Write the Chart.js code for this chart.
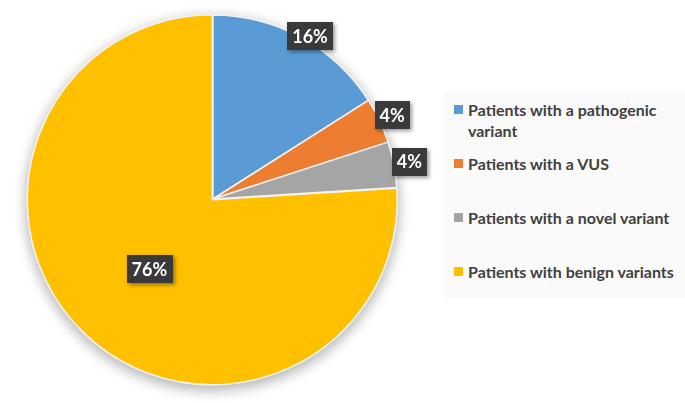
<!DOCTYPE html>
<html>
<head>
<meta charset="utf-8">
<script src="https://cdn.jsdelivr.net/npm/chart.js@4/dist/chart.umd.min.js"></script>
<style>
  html, body { margin: 0; padding: 0; background: #fff; }
  #wrap { position: relative; width: 685px; height: 403px; }
  #legend {
    position: absolute; left: 444px; top: 92px; width: 241px; height: 206px;
    background: #fafafa; font: bold 16px Lato, sans-serif; color: #404040;
  }
  .item { position: absolute; left: 10px; right: 2px; line-height: 21px; padding-left: 14px; }
  .item i { position: absolute; left: 0; top: 6px; width: 9px; height: 9px; }
</style>
</head>
<body>
<div id="wrap">
  <canvas id="pie"></canvas>
  <div id="legend"></div>
</div>
<script>
'use strict';

const categories = [
  'Patients with a pathogenic variant',
  'Patients with a VUS',
  'Patients with a novel variant',
  'Patients with benign variants',
];
const shares = [16, 4, 4, 76];
const sliceColors = ['#5B9BD5', '#ED7D31', '#A5A5A5', '#FFC000'];

// where Excel put the label boxes: angle shift (deg) and radius factor per slice
const labelShift = [2, 0, 0, -1];
const labelRadius = [1.03, 1.076, 1.087, 0.515];

// soft shadow under the whole pie
const pieShadow = {
  id: 'pieShadow',
  beforeDatasetsDraw(chart) {
    const ctx = chart.ctx;
    ctx.save();
    ctx.shadowColor = 'rgba(0,0,0,0.32)';
    ctx.shadowBlur = 14;
    ctx.shadowOffsetY = 4;
    chart.getDatasetMeta(0).data.forEach(arc => arc.draw(ctx));
    ctx.restore();
  },
};

// dark boxes with the percentages
const boxLabels = {
  id: 'boxLabels',
  afterDatasetsDraw(chart) {
    const ctx = chart.ctx;
    ctx.save();
    ctx.font = 'bold 18px Lato, sans-serif';
    ctx.textAlign = 'center';
    ctx.textBaseline = 'middle';
    chart.getDatasetMeta(0).data.forEach((arc, i) => {
      const p = arc.getProps(['x', 'y', 'startAngle', 'endAngle', 'outerRadius'], true);
      const mid = (p.startAngle + p.endAngle) / 2 + labelShift[i] * Math.PI / 180;
      const r = p.outerRadius * labelRadius[i];
      const cx = p.x + Math.cos(mid) * r;
      const cy = p.y + Math.sin(mid) * r;
      const text = shares[i] + '%';
      const w = ctx.measureText(text).width + 10;
      const h = 28;
      ctx.save();
      ctx.shadowColor = 'rgba(0,0,0,0.4)';
      ctx.shadowBlur = 4;
      ctx.shadowOffsetX = 2;
      ctx.shadowOffsetY = 2;
      ctx.fillStyle = '#3a3a3a';
      ctx.fillRect(Math.round(cx - w / 2), Math.round(cy - h / 2), Math.round(w), h);
      ctx.restore();
      ctx.fillStyle = '#ffffff';
      ctx.fillText(text, cx, cy + 1);
    });
    ctx.restore();
  },
};

new Chart(document.getElementById('pie'), {
  type: 'pie',
  data: {
    labels: categories,
    datasets: [{
      data: shares,
      backgroundColor: sliceColors,
      borderColor: '#f2f2f2',
      borderWidth: 1.5,
      offset: [0, 0, 0, 4],
    }],
  },
  options: {
    responsive: true,
    maintainAspectRatio: false,
    animation: false,
    radius: 184,
    layout: { padding: { left: 0, top: 0, right: 259, bottom: 5 } },
    plugins: {
      legend: { display: false },
      tooltip: { enabled: false },
    },
  },
  plugins: [pieShadow, boxLabels],
});

// legend built from the same arrays
const legend = document.getElementById('legend');
categories.forEach((name, i) => {
  const item = document.createElement('div');
  item.className = 'item';
  item.style.top = (7 + i * 54) + 'px';
  item.innerHTML = '<i style="background:' + sliceColors[i] + '"></i>' + name;
  legend.appendChild(item);
});
</script>
</body>
</html>
